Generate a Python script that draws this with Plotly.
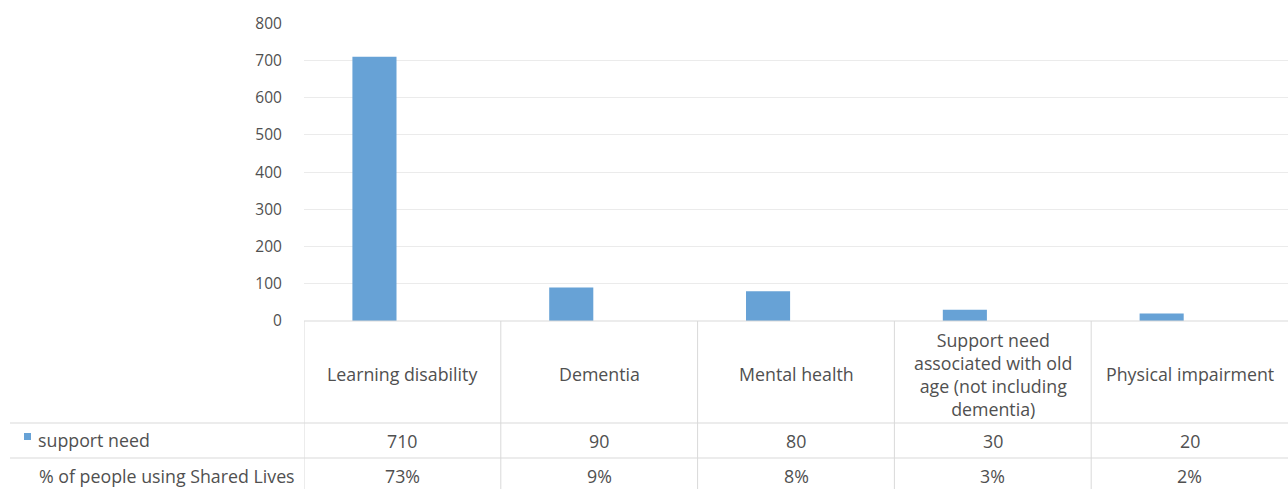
import plotly.graph_objects as go

categories = ["Learning disability", "Dementia", "Mental health",
              "Support need<br>associated with old<br>age (not including<br>dementia)",
              "Physical impairment"]
support_need = [710, 90, 80, 30, 20]
pct_shared_lives = ["73%", "9%", "8%", "3%", "2%"]
series_names = ["support need", "% of people using Shared Lives"]
y_ticks = [0, 100, 200, 300, 400, 500, 600, 700, 800]

W, H = 1288, 489
ML, MR, MT, MB = 304, 0, 23, 168
plot_h = H - MT - MB
plot_w = W - ML - MR

def py(pix):
    return (H - MB - pix) / plot_h

def px(pix):
    return (pix - ML) / plot_w

FONT = "Open Sans"
TXT = "#505050"
LINE = "#d9d9d9"
BLUE = "#67a2d6"
TSIZE = 17.8

xs = list(range(len(categories)))

fig = go.Figure()
fig.add_trace(go.Bar(
    x=xs, y=support_need, name=series_names[0],
    marker=dict(color=BLUE, line=dict(width=0)),
    width=0.224, offset=-0.254, showlegend=False,
))

fig.update_layout(
    width=W, height=H,
    margin=dict(l=ML, r=MR, t=MT, b=MB, pad=0),
    paper_bgcolor="white", plot_bgcolor="white",
    font=dict(family=FONT, color=TXT, size=15),
    xaxis=dict(range=[-0.5, len(categories) - 0.5], showticklabels=False,
               showgrid=False, zeroline=False, showline=False, fixedrange=True),
    yaxis=dict(range=[0, 801], tickvals=y_ticks, showgrid=True, gridcolor="#ebebeb",
               gridwidth=1, zeroline=False, showline=False, ticks="outside",
               ticklen=18, tickcolor="rgba(0,0,0,0)",
               tickfont=dict(family=FONT, size=15.5, color=TXT)),
)

shapes = []
shapes.append(dict(type="line", xref="paper", yref="paper", x0=0, x1=1, y0=0, y1=0,
                   line=dict(color=LINE, width=1)))
for ypix in [423, 458]:
    shapes.append(dict(type="line", xref="paper", yref="paper", x0=px(10), x1=1,
                       y0=py(ypix), y1=py(ypix), line=dict(color=LINE, width=1)))
for i in range(len(categories)):
    shapes.append(dict(type="line", xref="x", yref="paper", x0=i - 0.5, x1=i - 0.5,
                       y0=0, y1=py(H), line=dict(color=LINE, width=1)))
shapes.append(dict(type="rect", xref="paper", yref="paper", x0=px(24), x1=px(31),
                   y0=py(440), y1=py(433), fillcolor=BLUE, line=dict(width=0)))
fig.update_layout(shapes=shapes)

ann = []
for i, c in enumerate(categories):
    ann.append(dict(x=i, y=py(374), xref="x", yref="paper", text=c, showarrow=False,
                    xanchor="center", yanchor="middle", align="center",
                    font=dict(size=TSIZE, color=TXT, family=FONT)))
    ann.append(dict(x=i, y=py(441), xref="x", yref="paper", text=str(support_need[i]),
                    showarrow=False, xanchor="center", yanchor="middle",
                    font=dict(size=TSIZE, color=TXT, family=FONT)))
    ann.append(dict(x=i, y=py(476), xref="x", yref="paper", text=pct_shared_lives[i],
                    showarrow=False, xanchor="center", yanchor="middle",
                    font=dict(size=TSIZE, color=TXT, family=FONT)))
ann.append(dict(x=px(36), y=py(440), xref="paper", yref="paper", text=series_names[0],
                showarrow=False, xanchor="left", yanchor="middle",
                font=dict(size=TSIZE, color=TXT, family=FONT)))
ann.append(dict(x=px(37), y=py(476), xref="paper", yref="paper", text=series_names[1],
                showarrow=False, xanchor="left", yanchor="middle",
                font=dict(size=TSIZE, color=TXT, family=FONT)))
fig.update_layout(annotations=ann)

fig.write_html("out.html", config={"displayModeBar": False},
               post_script="document.body.style.margin='0';document.body.style.overflow='hidden';")
